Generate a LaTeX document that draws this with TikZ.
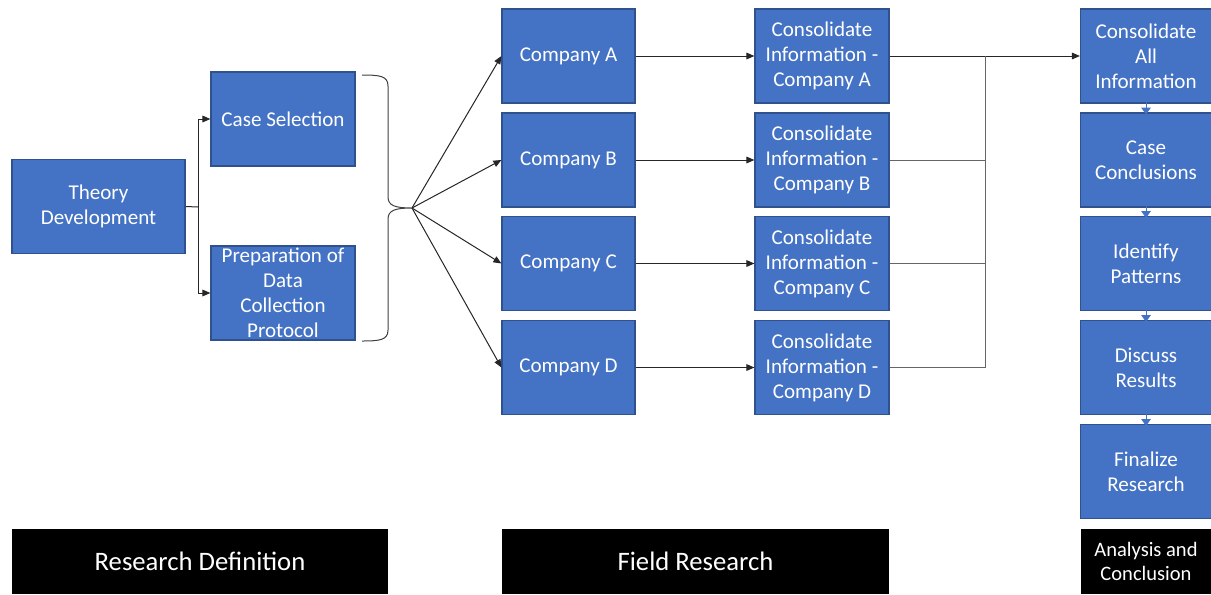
\documentclass[tikz,border=0pt]{standalone}
\usepackage{fontspec}
\setmainfont{Carlito}
\usetikzlibrary{arrows.meta}
\definecolor{boxblue}{HTML}{4472C4}
\definecolor{boxedge}{HTML}{2F528F}
\begin{document}
\begin{tikzpicture}[x=0.75pt,y=-0.75pt,
  bluebox/.style={draw=boxedge, fill=boxblue, line width=0.9pt, text=white, align=center,
    inner sep=1pt, minimum height=70.5pt, font=\fontsize{15.8}{18.75}\selectfont},
  barbox/.style={fill=black, text=white, align=center, minimum height=48.75pt, inner sep=1pt},
  conn/.style={line width=0.75pt, draw=black!85},
  arr/.style={conn, -{Triangle[length=6pt,width=5pt]}},
  smallarr/.style={draw=boxblue, line width=0.6pt, -{Triangle[length=5pt,width=7pt]}, shorten <=-1pt, shorten >=-1.5pt}
]
\useasboundingbox (0,0) rectangle (1211,594);

% Research definition
\node[bluebox, minimum width=129.75pt] (theory) at (98.5,206.5) {Theory\\Development};
\node[bluebox, minimum width=108pt] (cs) at (283,119) {Case Selection};
\node[bluebox, minimum width=108pt] (prep) at (283,293) {Preparation of\\Data\\Collection\\Protocol};

% Companies
\node[bluebox, minimum width=99.75pt] (coA) at (568.5,56) {Company A};
\node[bluebox, minimum width=99.75pt] (coB) at (568.5,160) {Company B};
\node[bluebox, minimum width=99.75pt] (coC) at (568.5,263.5) {Company C};
\node[bluebox, minimum width=99.75pt] (coD) at (568.5,367.5) {Company D};

% Consolidations
\node[bluebox, minimum width=100.5pt] (conA) at (822,56) {Consolidate\\Information -\\Company A};
\node[bluebox, minimum width=100.5pt] (conB) at (822,160) {Consolidate\\Information -\\Company B};
\node[bluebox, minimum width=100.5pt] (conC) at (822,263.5) {Consolidate\\Information -\\Company C};
\node[bluebox, minimum width=100.5pt] (conD) at (822,367.5) {Consolidate\\Information -\\Company D};

% Analysis column
\node[bluebox, minimum width=98.25pt] (all) at (1146,56) {Consolidate\\All\\Information};
\node[bluebox, minimum width=98.25pt] (case) at (1146,160) {Case\\Conclusions};
\node[bluebox, minimum width=98.25pt] (pat) at (1146,263.5) {Identify\\Patterns};
\node[bluebox, minimum width=98.25pt] (disc) at (1146,367.5) {Discuss\\Results};
\node[bluebox, minimum width=98.25pt] (fin) at (1146,471.5) {Finalize\\Research};

% Bars
\node[barbox, minimum width=282pt, font=\fontsize{20}{22}\selectfont] (rd) at (200,561.5) {Research Definition};
\node[barbox, minimum width=290.25pt, font=\fontsize{20}{22}\selectfont] (fr) at (695.5,561.5) {Field Research};
\node[barbox, minimum width=98.25pt, font=\fontsize{15.4}{18.5}\selectfont] (ac) at (1146,561.5) {Analysis and\\Conclusion};

% Theory to case selection / preparation
\coordinate (j) at (198,207);
\draw[conn] (theory.east) -- (j);
\draw[arr] (j) |- (cs.west);
\draw[arr] (j) |- (prep.west);

% Brace
\coordinate (tip) at (412,208);
\draw[conn, draw=black!75] (362,75) .. controls (380,75) and (388,76) .. (388,86) -- (388,197)
  .. controls (388,206) and (396,208) .. (tip)
  .. controls (396,208) and (388,210) .. (388,219) -- (388,330)
  .. controls (388,340) and (380,341) .. (362,341);

\draw[arr] (tip) -- (coA.west);
\draw[arr] (tip) -- (coB.west);
\draw[arr] (tip) -- (coC.west);
\draw[arr] (tip) -- (coD.west);

\draw[arr] (coA) -- (conA);
\draw[arr] (coB) -- (conB);
\draw[arr] (coC) -- (conC);
\draw[arr] (coD) -- (conD);

% Merge
\coordinate (m) at (985,56);
\draw[arr] (conA.east) -- (all.west);
\draw[conn, draw=black!60] (conB.east) -| (m);
\draw[conn, draw=black!60] (conC.east) -| (m);
\draw[conn, draw=black!60] (conD.east) -| (m);

% Analysis column arrows
\draw[smallarr] (all.south) -- (case.north);
\draw[smallarr] (case.south) -- (pat.north);
\draw[smallarr] (pat.south) -- (disc.north);
\draw[smallarr] (disc.south) -- (fin.north);
\end{tikzpicture}
\end{document}
